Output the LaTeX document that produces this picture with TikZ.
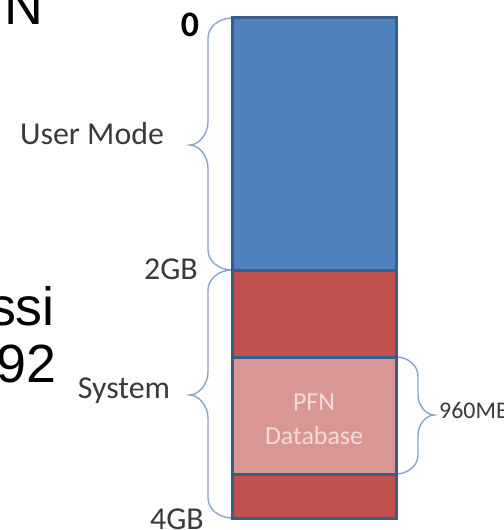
\documentclass[tikz,border=0pt]{standalone}
\usepackage{fontspec}
\setmainfont{Carlito}
\newfontfamily\arialfont{Liberation Sans}
\definecolor{userblue}{HTML}{4F81BD}
\definecolor{sysred}{HTML}{C0504D}
\definecolor{pfnpink}{HTML}{D99694}
\definecolor{edgeblue}{HTML}{385D8A}
\definecolor{bracecol}{HTML}{8AA3CB}
\definecolor{labelgray}{HTML}{3A3A3A}
\definecolor{pfntext}{HTML}{F2DCDB}

\tikzset{
  seg/.style={draw=edgeblue, line width=3bp, inner sep=0pt, outer sep=0pt,
              minimum width=164bp, anchor=north west},
  curly/.style={draw=bracecol, line width=1.4bp},
  lbl/.style={text=labelgray, font=\fontsize{32}{38}\selectfont, inner sep=0pt},
  bigtxt/.style={font=\arialfont\fontsize{54}{60}\selectfont, inner sep=0pt, anchor=base east},
}

% curly brace: #1 end x, #2 spine x, #3 tip x, #4 top y, #5 bottom y,
% #6 tip y, #7 end curl radius, #8 tip half height
\newcommand\drawcurly[8]{%
  \draw[curly] (#1,#4)
    .. controls ({#2+(#1-#2)*0.45},#4) and (#2,{#4+#7*0.45}) .. (#2,{#4+#7})
    -- (#2,{#6-#8})
    .. controls (#2,{#6-#8*0.45}) and ({#3+(#2-#3)*0.45},#6) .. (#3,#6)
    .. controls ({#3+(#2-#3)*0.45},#6) and (#2,{#6+#8*0.45}) .. (#2,{#6+#8})
    -- (#2,{#5-#7})
    .. controls (#2,{#5-#7*0.45}) and ({#2+(#1-#2)*0.45},#5) .. (#1,#5);
}

\begin{document}
\begin{tikzpicture}[x=1bp,y=-1bp]
\useasboundingbox (0,0) rectangle (504,530);

% braces behind the memory bar
\drawcurly{232}{208}{190}{18}{270}{145}{20}{23}
\drawcurly{232}{208}{190}{270}{518}{395}{20}{23}
\drawcurly{396}{418}{434}{357}{474}{415}{19}{20}

% address space segments
\node[seg, fill=userblue, minimum height=252bp] (user) at (232,18) {};
\node[seg, fill=sysred,   minimum height=87bp]  (sysA) at (232,270) {};
\node[seg, fill=pfnpink,  minimum height=117bp] (pfn)  at (232,357) {};
\node[seg, fill=sysred,   minimum height=44bp]  (sysB) at (232,474) {};

\node[text=pfntext, font=\fontsize{26}{34}\selectfont, align=center, inner sep=0pt]
  (pfnlbl) at (314,419) {PFN\\Database};

% labels
\node[lbl, text=black, font=\fontsize{36}{40}\selectfont\bfseries, anchor=base] (zero) at (190,37) {0};
\node[lbl, anchor=base] (um)  at (92,145)  {User Mode};
\node[lbl, anchor=base] (gb2) at (171,279) {2GB};
\node[lbl, anchor=base] (sys) at (124,398) {System};
\node[lbl, anchor=base] (gb4) at (177,529) {4GB};
\node[lbl, anchor=base west, font=\fontsize{24}{28}\selectfont] (mb) at (439,418) {960MB};

% slide text running in from the left
\node[bigtxt] (tN)   at (44,25)  {N};
\node[bigtxt] (tssi) at (55,325) {ssi};
\node[bigtxt] (t92)  at (57,382) {92};
\end{tikzpicture}
\end{document}
